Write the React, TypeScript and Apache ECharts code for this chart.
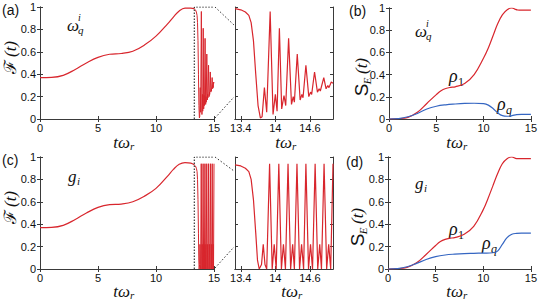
import React, { useEffect, useRef } from 'react';
import * as echarts from 'echarts';

// ---------- data ----------
const timeTicks = [0, 5, 10, 15];
const insetTickLabels = [13.4, 14, 14.6];
const zoomStart = 13.3;
const zoomEnd = 15;

// fidelity, panel (a): smooth rise
const fidelityRiseA = [
  [0, 0.37], [1, 0.372], [2, 0.39], [3, 0.44], [4, 0.5], [5, 0.55], [6, 0.578], [7, 0.585],
  [8, 0.605], [9, 0.66], [10, 0.74], [11, 0.85], [11.5, 0.91], [12, 0.965], [12.5, 0.99],
  [13, 0.99], [13.3, 0.985],
];
// fidelity, panel (a): collapse and decaying oscillation
const fidelityOscA = [
  [13.3, 0.985], [13.4, 0.975], [13.48, 0.955], [13.54, 0.925], [13.58, 0.86], [13.62, 0.7],
  [13.66, 0.4], [13.7, 0.12], [13.74, 0.01], [13.77, 0.02], [13.81, 0.28], [13.85, 0.06],
  [13.91, 0.96], [13.96, 0.04], [14.0, 0.22], [14.03, 0.07], [14.07, 0.81], [14.11, 0.09],
  [14.15, 0.21], [14.18, 0.12], [14.23, 0.72], [14.28, 0.13], [14.31, 0.2], [14.33, 0.15],
  [14.38, 0.58], [14.43, 0.17], [14.46, 0.22], [14.48, 0.19], [14.53, 0.48], [14.58, 0.2],
  [14.61, 0.24], [14.63, 0.22], [14.68, 0.42], [14.73, 0.24], [14.76, 0.27], [14.78, 0.25],
  [14.84, 0.37], [14.88, 0.27], [14.91, 0.3], [14.93, 0.28], [14.97, 0.33], [15.0, 0.32],
];
// fidelity, panel (c)
const fidelityRiseC = [
  [0, 0.37], [1, 0.372], [2, 0.39], [3, 0.44], [4, 0.5], [5, 0.55], [6, 0.575], [7, 0.58],
  [8, 0.6], [9, 0.65], [10, 0.72], [11, 0.83], [11.5, 0.89], [12, 0.935], [12.5, 0.95],
  [13, 0.945], [13.3, 0.93],
];
const fidelityOscC = [
  [13.3, 0.93], [13.4, 0.92], [13.48, 0.9], [13.54, 0.87], [13.58, 0.8], [13.62, 0.62],
  [13.66, 0.32], [13.69, 0.08], [13.72, 0.0], [13.76, 0.04], [13.79, 0.22], [13.82, 0.04],
  [13.85, 0.0], [13.9, 0.94], [13.945, 0.0], [13.98, 0.22], [14.015, 0.0], [14.06, 0.94],
  [14.105, 0.0], [14.14, 0.22], [14.175, 0.0], [14.22, 0.94], [14.265, 0.0], [14.3, 0.22],
  [14.33, 0.0], [14.375, 0.94], [14.42, 0.0], [14.455, 0.22], [14.49, 0.0], [14.53, 0.94],
  [14.575, 0.0], [14.61, 0.22], [14.645, 0.0], [14.69, 0.94], [14.735, 0.0], [14.77, 0.22],
  [14.8, 0.0], [14.845, 0.94], [14.89, 0.0], [14.925, 0.22], [14.96, 0.0], [15.0, 0.94],
];
// entanglement entropy, panel (b)
const entropyRho1B = [
  [0, 0], [1, 0.003], [2, 0.015], [3, 0.06], [4, 0.14], [5, 0.22], [5.5, 0.255], [6, 0.275],
  [6.5, 0.285], [7, 0.29], [8, 0.32], [9, 0.4], [10, 0.55], [10.5, 0.64], [11, 0.75],
  [11.5, 0.86], [12, 0.94], [12.5, 0.985], [13, 1.0], [13.3, 0.99], [13.6, 0.982], [14, 0.98],
  [15, 0.98],
];
const entropyRhoqB = [
  [0, 0], [1, 0.004], [2, 0.02], [3, 0.05], [4, 0.09], [5, 0.115], [6, 0.128], [7, 0.135],
  [8, 0.14], [9, 0.142], [10, 0.138], [10.5, 0.125], [11, 0.095], [11.5, 0.055], [12, 0.03],
  [12.5, 0.025], [13, 0.03], [13.5, 0.04], [14, 0.042], [15, 0.042],
];
// entanglement entropy, panel (d)
const entropyRho1D = [
  [0, 0], [1, 0.003], [2, 0.015], [3, 0.055], [4, 0.13], [5, 0.21], [5.5, 0.245], [6, 0.265],
  [6.5, 0.275], [7, 0.28], [8, 0.31], [9, 0.38], [10, 0.53], [10.5, 0.63], [11, 0.74],
  [11.5, 0.85], [12, 0.94], [12.5, 0.985], [13, 1.0], [13.5, 0.985], [15, 0.985],
];
const entropyRhoqD = [
  [0, 0], [1, 0.004], [2, 0.02], [3, 0.05], [4, 0.085], [5, 0.11], [6, 0.125], [7, 0.133],
  [8, 0.138], [9, 0.14], [10, 0.142], [11, 0.145], [11.5, 0.16], [12, 0.22], [12.5, 0.28],
  [13, 0.31], [13.5, 0.318], [14, 0.32], [15, 0.32],
];
const zoomBox = [[zoomStart, 0], [zoomStart, 1], [zoomEnd, 1]];

// ---------- styling ----------
const RED = '#d8262d';
const BLUE = '#3566c2';
const AX = '#3a3a3a';
const TXT = '#111';
const SANS = 'Liberation Sans, Arial, sans-serif';
const SERIF = 'Liberation Serif, Times New Roman, serif';

const grids = [
  { left: 40, top: 7, width: 174, height: 112 },   // a
  { left: 235, top: 7, width: 98, height: 112 },   // a inset
  { left: 389, top: 8, width: 145, height: 111 },  // b
  { left: 40, top: 157, width: 174, height: 112 }, // c
  { left: 235, top: 157, width: 98, height: 112 }, // c inset
  { left: 388, top: 157, width: 145, height: 112 },// d
];

function buildAxes(inset: boolean, gridIndex: number) {
  const tick = { inside: true, length: 3, lineStyle: { color: AX, width: 1 } };
  const line = { show: true, lineStyle: { color: AX, width: 1 } };
  const label = { fontSize: 11, color: TXT, fontFamily: SANS, margin: 3 };
  const xBase: any = inset
    ? { min: zoomStart, max: zoomEnd }
    : { min: timeTicks[0], max: timeTicks[timeTicks.length - 1], interval: 5 };
  const xTick = inset ? { ...tick, customValues: insetTickLabels } : tick;
  const xLabel = inset ? { ...label, customValues: insetTickLabels } : label;
  const x = [
    { gridIndex, type: 'value', position: 'bottom', ...xBase, axisLine: line, axisTick: xTick, axisLabel: xLabel, splitLine: { show: false } },
    { gridIndex, type: 'value', position: 'top', ...xBase, axisLine: line, axisTick: xTick, axisLabel: { show: false }, splitLine: { show: false } },
  ];
  const yBase = { min: 0, max: 1, interval: 0.2 };
  const y = [
    { gridIndex, type: 'value', position: 'left', ...yBase, axisLine: line, axisTick: tick, axisLabel: inset ? { show: false } : { ...label, margin: 4 }, splitLine: { show: false } },
    { gridIndex, type: 'value', position: 'right', ...yBase, axisLine: line, axisTick: tick, axisLabel: { show: false }, splitLine: { show: false } },
  ];
  return { x, y };
}

function lineSeries(panel: number, data: number[][], color: string, smooth: number | boolean, extra: any = {}) {
  return {
    type: 'line', xAxisIndex: panel * 2, yAxisIndex: panel * 2, data, showSymbol: false, symbol: 'none',
    smooth, lineStyle: { color, width: 1.2 }, silent: true, ...extra,
  };
}

function txt(x: number, y: number, text: string, font: string, opts: any = {}) {
  const align = opts.align || 'left';
  const va = opts.va || 'top';
  return {
    type: 'text', x, y, rotation: opts.rotation || 0, silent: true,
    style: { text, font, fill: TXT, textAlign: align, textVerticalAlign: va, align, verticalAlign: va },
  };
}

function xTitle(cx: number, cy: number) {
  return [
    txt(cx + 5, cy, 'tω', `italic 17px ${SERIF}`, { align: 'right', va: 'middle' }),
    txt(cx + 5, cy + 4, 'r', `italic 11px ${SERIF}`, { align: 'left', va: 'middle' }),
  ];
}

function fTitle(cx: number, cy: number) {
  const r = Math.PI / 2;
  return [
    txt(cx, cy + 12, 'ℱ', `17px DejaVu Serif, serif`, { align: 'center', va: 'middle', rotation: r }),
    txt(cx, cy - 6, '(t)', `italic 17px ${SERIF}`, { align: 'center', va: 'middle', rotation: r }),
  ];
}

function sTitle(cx: number, cy: number) {
  const r = Math.PI / 2;
  return [
    txt(cx, cy + 16, 'S', `19px ${SANS}`, { align: 'center', va: 'middle', rotation: r }),
    txt(cx + 6, cy + 7, 'E', `italic 11px ${SERIF}`, { align: 'center', va: 'middle', rotation: r }),
    txt(cx, cy - 8, '(t)', `italic 17px ${SERIF}`, { align: 'center', va: 'middle', rotation: r }),
  ];
}

function omegaQI(x: number, y: number) {
  return [
    txt(x, y, 'ω', `italic 17px ${SERIF}`),
    txt(x + 11, y - 5, 'i', `italic 10px ${SERIF}`),
    txt(x + 11, y + 7, 'q', `italic 11px ${SERIF}`),
  ];
}
function gI(x: number, y: number) {
  return [txt(x, y, 'g', `italic 17px ${SERIF}`), txt(x + 9, y + 7, 'i', `italic 11px ${SERIF}`)];
}
function rho(x: number, y: number, sub: string, italicSub: boolean) {
  return [
    txt(x, y, 'ρ', `italic 18px ${SERIF}`),
    txt(x + 9, y + 9, sub, `${italicSub ? 'italic ' : ''}12px ${SERIF}`),
  ];
}

function dotted(x1: number, y1: number, x2: number, y2: number) {
  return { type: 'line', silent: true, shape: { x1, y1, x2, y2 }, style: { stroke: '#333', lineWidth: 1, lineDash: [1.5, 2] } };
}

export default function App() {
  const ref = useRef<HTMLDivElement>(null);
  useEffect(() => {
    if (!ref.current) return;
    const chart = echarts.init(ref.current, null, { renderer: 'svg' });
    const xAxis: any[] = [];
    const yAxis: any[] = [];
    [false, true, false, false, true, false].forEach((inset, i) => {
      const a = buildAxes(inset, i);
      xAxis.push(...a.x);
      yAxis.push(...a.y);
    });
    const boxStyle = { lineStyle: { color: '#111', width: 1, type: [1.5, 1.5] as any } };
    const series = [
      lineSeries(0, fidelityRiseA, RED, 0.4),
      lineSeries(0, fidelityOscA, RED, false, { lineStyle: { color: RED, width: 1 } }),
      lineSeries(0, zoomBox, '#111', false, { ...boxStyle, z: 5 }),
      lineSeries(1, fidelityOscA, RED, false),
      lineSeries(2, entropyRho1B, RED, 0.4),
      lineSeries(2, entropyRhoqB, BLUE, 0.4),
      lineSeries(3, fidelityRiseC, RED, 0.4),
      lineSeries(3, fidelityOscC, RED, false, { lineStyle: { color: RED, width: 1 } }),
      lineSeries(3, zoomBox, '#111', false, { ...boxStyle, z: 5 }),
      lineSeries(4, fidelityOscC, RED, false),
      lineSeries(5, entropyRho1D, RED, 0.4),
      lineSeries(5, entropyRhoqD, BLUE, 0.4),
    ];
    const graphic: any[] = [
      dotted(215, 7, 234, 25), dotted(215, 118, 234, 97),
      dotted(215, 157, 234, 171), dotted(215, 268, 234, 247),
      txt(2, 3, '(a)', `14px ${SANS}`), txt(349, 4, '(b)', `14px ${SANS}`),
      txt(2, 153, '(c)', `14px ${SANS}`), txt(346, 155, '(d)', `14px ${SANS}`),
      ...omegaQI(67, 17), ...omegaQI(415, 23),
      ...gI(68, 168), ...gI(415, 175),
      ...rho(449, 67, '1', false), ...rho(497, 95, 'q', true),
      ...rho(449, 220, '1', false), ...rho(482, 234, 'q', true),
      ...xTitle(125, 142), ...xTitle(287, 142), ...xTitle(458, 142),
      ...xTitle(125, 291), ...xTitle(293, 291), ...xTitle(458, 291),
      ...fTitle(10, 55), ...fTitle(10, 205),
      ...sTitle(361, 74), ...sTitle(357, 224),
    ];
    chart.setOption({
      animation: false,
      backgroundColor: '#fff',
      grid: grids,
      xAxis,
      yAxis,
      series,
      graphic,
    });
    return () => chart.dispose();
  }, []);
  return <div ref={ref} style={{ width: 540, height: 301, position: 'absolute', left: 0, top: 0 }} />;
}
